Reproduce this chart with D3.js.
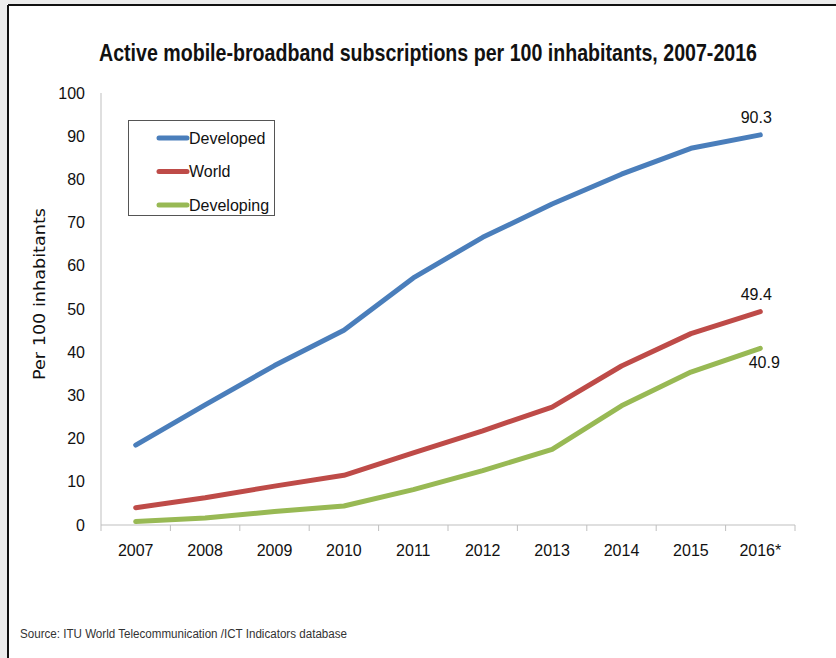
<!DOCTYPE html>
<html>
<head>
<meta charset="utf-8">
<script src="https://cdn.jsdelivr.net/npm/d3@7"></script>
<style>
  body { margin: 0; background: #fff; }
  svg { display: block; }
</style>
</head>
<body>
<div id="chart"></div>
<script>
var years = ["2007", "2008", "2009", "2010", "2011", "2012", "2013", "2014", "2015", "2016*"];
var developed = [18.5, 27.8, 36.9, 45.1, 57.2, 66.6, 74.3, 81.2, 87.2, 90.3];
var world = [4.0, 6.3, 9.0, 11.5, 16.7, 21.8, 27.3, 36.8, 44.3, 49.4];
var developing = [0.8, 1.6, 3.1, 4.4, 8.2, 12.6, 17.5, 27.6, 35.4, 40.9];
var yTicks = [0, 10, 20, 30, 40, 50, 60, 70, 80, 90, 100];
var seriesNames = ["Developed", "World", "Developing"];
var seriesColors = ["#4a7ebb", "#be4b48", "#98b954"];

var W = 836, H = 658;
var margin = {top: 93, left: 101, right: 41, bottom: 133};
var width = W - margin.left - margin.right;
var height = H - margin.top - margin.bottom;

var svg = d3.select("#chart").append("svg")
    .attr("width", W)
    .attr("height", H);

// frame: grey strip top/left, dark border
svg.append("rect").attr("x", 0).attr("y", 0).attr("width", W).attr("height", 4).attr("fill", "#ececec");
svg.append("rect").attr("x", 0).attr("y", 0).attr("width", 7).attr("height", H).attr("fill", "#ececec");
svg.append("line").attr("x1", 8).attr("x2", W).attr("y1", 5).attr("y2", 5)
    .attr("stroke", "#111").attr("stroke-width", 2);
svg.append("line").attr("x1", 8).attr("x2", 8).attr("y1", 5).attr("y2", H)
    .attr("stroke", "#111").attr("stroke-width", 2);

var narrow = "'Liberation Sans', Arial, sans-serif";

// title, squeezed sideways to look like the condensed original
svg.append("text")
    .attr("transform", "translate(428,61) scale(0.853,1)")
    .attr("text-anchor", "middle")
    .style("font-family", narrow)
    .style("font-weight", "bold").style("font-size", "23px").style("fill", "#111")
    .text("Active mobile-broadband subscriptions per 100 inhabitants, 2007-2016");

var g = svg.append("g").attr("transform", "translate(" + margin.left + "," + margin.top + ")");

var xScale = d3.scaleBand().domain(years).range([0, width]);
var yScale = d3.scaleLinear().domain([0, 100]).range([height, 0]);

// y axis
var yAxis = d3.axisLeft(yScale).tickValues(yTicks).tickSize(0).tickPadding(16);
var yg = g.append("g").call(yAxis);
yg.select(".domain").attr("stroke", "#bfbfbf").attr("d", "M0," + height + "V0");
yg.selectAll("text").style("font-family", narrow).style("font-size", "16px").style("fill", "#111");

// x axis
var xAxis = d3.axisBottom(xScale).tickSize(0).tickPadding(20);
var xg = g.append("g").attr("transform", "translate(0," + height + ")").call(xAxis);
xg.select(".domain").attr("stroke", "#bfbfbf").attr("d", "M0,0H" + width);
xg.selectAll("text").style("font-family", narrow).style("font-size", "16px").style("fill", "#111");
var bounds = years.map(function(d) { return xScale(d); }).concat([width]);
xg.selectAll(".xtick").data(bounds).enter().append("line")
    .attr("class", "xtick")
    .attr("x1", function(d) { return d; }).attr("x2", function(d) { return d; })
    .attr("y1", 0).attr("y2", 6)
    .attr("stroke", "#bfbfbf");

svg.append("text")
    .attr("transform", "translate(45," + 380 + ") rotate(-90)")
    .attr("textLength", 172).attr("lengthAdjust", "spacingAndGlyphs")
    .style("font-family", "'DejaVu Sans', Verdana, sans-serif").style("font-size", "15px").style("fill", "#111")
    .text("Per 100 inhabitants");

var line = d3.line()
    .x(function(d, i) { return xScale(years[i]) + xScale.bandwidth() / 2; })
    .y(function(d) { return yScale(d); });

var allSeries = [developed, world, developing];
allSeries.forEach(function(s, k) {
    g.append("path")
        .attr("d", line(s))
        .attr("fill", "none")
        .attr("stroke", seriesColors[k])
        .attr("stroke-width", 5)
        .attr("stroke-linecap", "round")
        .attr("stroke-linejoin", "round");
});

// end labels
var lastX = xScale(years[9]) + xScale.bandwidth() / 2;
var endOffsets = [-12, -12, 20];
allSeries.forEach(function(s, k) {
    g.append("text")
        .attr("x", lastX - (k === 2 ? -4 : 4))
        .attr("y", yScale(s[9]) + endOffsets[k])
        .attr("text-anchor", "middle")
        .style("font-family", narrow).style("font-size", "16px").style("fill", "#111")
        .text(s[9].toFixed(1));
});

// legend
var legend = svg.append("g").attr("transform", "translate(128,120)");
legend.append("rect").attr("x", 0.5).attr("y", 0.5).attr("width", 146).attr("height", 95)
    .attr("fill", "#fff").attr("stroke", "#555").attr("stroke-width", 1);
seriesNames.forEach(function(name, k) {
    var yy = 18 + k * 33.5;
    legend.append("line").attr("x1", 31).attr("x2", 59).attr("y1", yy).attr("y2", yy)
        .attr("stroke", seriesColors[k]).attr("stroke-width", 5).attr("stroke-linecap", "round");
    legend.append("text").attr("x", 61).attr("y", yy + 5.5)
        .style("font-family", narrow).style("font-size", "16px").style("fill", "#111")
        .text(name);
});

svg.append("text").attr("x", 20).attr("y", 638)
    .attr("textLength", 327).attr("lengthAdjust", "spacingAndGlyphs")
    .style("font-family", narrow).style("font-size", "12px").style("fill", "#333")
    .text("Source:  ITU World Telecommunication  /ICT Indicators database");
</script>
</body>
</html>
